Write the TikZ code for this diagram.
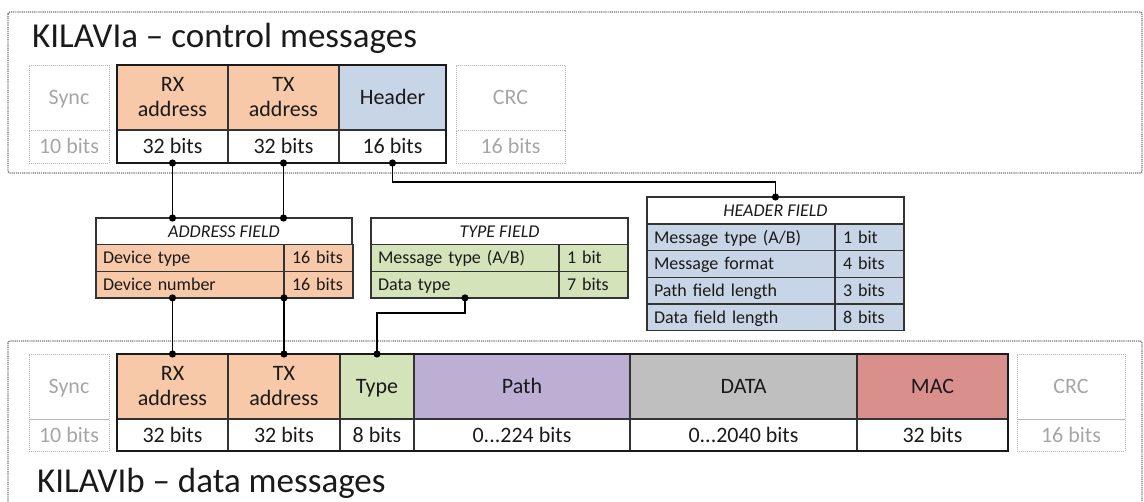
\documentclass[tikz,border=0pt]{standalone}
\usepackage{fontspec}
\setmainfont{Carlito}

\definecolor{ink}{HTML}{1A1A1A}
\definecolor{faint}{HTML}{A6A6A6}
\definecolor{faintline}{HTML}{B5B5B5}
\definecolor{frame}{HTML}{767676}
\definecolor{rule}{HTML}{333333}
\definecolor{addr}{HTML}{F8C9A8}
\definecolor{hdr}{HTML}{C8D5E6}
\definecolor{typ}{HTML}{D5E3BB}
\definecolor{pth}{HTML}{BDAED3}
\definecolor{dat}{HTML}{BFBFBF}
\definecolor{mac}{HTML}{D9908D}

\tikzset{
  % one field of a message frame
  cell/.style={draw=rule, line width=1.2pt, inner sep=0pt, outer sep=0pt,
    anchor=north west, text=ink, align=center,
    font=\fontsize{22}{25}\selectfont},
  oneline/.style={text height=14.2pt, text depth=0pt},
  % optional fields (sync, CRC) drawn in light grey
  ghost/.style={cell, draw=faintline, line width=0.9pt,
    dash pattern=on 1pt off 1pt, text=faint, oneline},
  % field description tables
  tab/.style={draw=rule, line width=1.3pt, inner sep=0pt, outer sep=0pt,
    anchor=north west, text=ink, font=\fontsize{18}{20}\selectfont,
    text height=11.6pt, text depth=0pt},
  tabhead/.style={tab, fill=white, font=\fontsize{18}{20}\selectfont\itshape},
  lcol/.style={tab, inner xsep=7pt, text width=174pt, align=left,
    minimum height=26.7pt},
  rcol/.style={tab, inner xsep=8pt, text width=53pt, align=left,
    minimum height=26.7pt},
  frameline/.style={draw=frame, line width=1.4pt, dash pattern=on 1.2pt off 0.9pt,
    rounded corners=2pt},
  title/.style={anchor=base west, inner sep=0pt, text=ink,
    font=\fontsize{35}{40}\selectfont},
  link/.style={draw=black, line width=1.5pt},
  dot/.style={fill=black}
}

\begin{document}
\begin{tikzpicture}[x=1pt, y=-1pt]
\useasboundingbox (0,0) rectangle (1144,502);
\clip (0,0) rectangle (1144,502);

% ---------- outer frames ----------
\draw[frameline] (8,12) rectangle (1142,173);
\draw[frameline] (8,341) rectangle (1142,530);

\node[title] (titleA) at (32,48) {KILAVIa – control messages};
\node[title] (titleB) at (37,493) {KILAVIb – data messages};

% ---------- KILAVIa frame ----------
\node[ghost, minimum width=80pt, minimum height=65pt] (tSync) at (29,65) {Sync};
\node[ghost, minimum width=80pt, minimum height=33pt] (tSyncB) at (29,130) {10 bits};
\node[cell, fill=addr, minimum width=111pt, minimum height=65pt] (tRX) at (117,65) {RX\\address};
\node[cell, oneline, minimum width=111pt, minimum height=33pt] (tRXB) at (117,130) {32 bits};
\node[cell, fill=addr, minimum width=111pt, minimum height=65pt] (tTX) at (228,65) {TX\\address};
\node[cell, oneline, minimum width=111pt, minimum height=33pt] (tTXB) at (228,130) {32 bits};
\node[cell, oneline, fill=hdr, minimum width=107pt, minimum height=65pt] (tHdr) at (339,65) {Header};
\node[cell, oneline, minimum width=107pt, minimum height=33pt] (tHdrB) at (339,130) {16 bits};
\node[ghost, minimum width=109pt, minimum height=65pt] (tCRC) at (456,65) {CRC};
\node[ghost, minimum width=109pt, minimum height=33pt] (tCRCB) at (456,130) {16 bits};
\draw[draw=ink, line width=2.4pt] (tRX.north west) rectangle (tHdrB.south east);

% ---------- KILAVIb frame ----------
\node[ghost, minimum width=80pt, minimum height=65pt] (bSync) at (29,354) {Sync};
\node[ghost, minimum width=80pt, minimum height=32pt] (bSyncB) at (29,419) {10 bits};
\node[cell, fill=addr, minimum width=111pt, minimum height=65pt] (bRX) at (117,354) {RX\\address};
\node[cell, oneline, minimum width=111pt, minimum height=32pt] (bRXB) at (117,419) {32 bits};
\node[cell, fill=addr, minimum width=112pt, minimum height=65pt] (bTX) at (228,354) {TX\\address};
\node[cell, oneline, minimum width=112pt, minimum height=32pt] (bTXB) at (228,419) {32 bits};
\node[cell, oneline, fill=typ, minimum width=74pt, minimum height=65pt] (bType) at (340,354) {Type};
\node[cell, oneline, minimum width=74pt, minimum height=32pt] (bTypeB) at (340,419) {8 bits};
\node[cell, oneline, fill=pth, minimum width=216pt, minimum height=65pt] (bPath) at (414,354) {Path};
\node[cell, oneline, minimum width=216pt, minimum height=32pt] (bPathB) at (414,419) {0...224 bits};
\node[cell, oneline, fill=dat, minimum width=227pt, minimum height=65pt] (bData) at (630,354) {DATA};
\node[cell, oneline, minimum width=227pt, minimum height=32pt] (bDataB) at (630,419) {0...2040 bits};
\node[cell, oneline, fill=mac, minimum width=151pt, minimum height=65pt] (bMac) at (857,354) {MAC};
\node[cell, oneline, minimum width=151pt, minimum height=32pt] (bMacB) at (857,419) {32 bits};
\node[ghost, minimum width=108pt, minimum height=65pt] (bCRC) at (1017,354) {CRC};
\node[ghost, minimum width=108pt, minimum height=32pt] (bCRCB) at (1017,419) {16 bits};
\draw[draw=ink, line width=2.4pt] (bRX.north west) rectangle (bMacB.south east);

% ---------- ADDRESS FIELD ----------
\node[tabhead, minimum width=256pt, minimum height=26.5pt] (adrHead) at (96,218) {ADDRESS FIELD};
\node[lcol, fill=addr] (adr1) at (96,244.5) {Device type};
\node[rcol, fill=addr] (adr1b) at (adr1.north east) {16 bits};
\node[lcol, fill=addr] (adr2) at (adr1.south west) {Device number};
\node[rcol, fill=addr] (adr2b) at (adr2.north east) {16 bits};

% ---------- TYPE FIELD ----------
\node[tabhead, minimum width=257pt, minimum height=26.5pt] (typHead) at (371,218) {TYPE FIELD};
\node[lcol, fill=typ] (typ1) at (371,244.5) {Message type (A/B)};
\node[rcol, fill=typ] (typ1b) at (typ1.north east) {1 bit};
\node[lcol, fill=typ] (typ2) at (typ1.south west) {Data type};
\node[rcol, fill=typ] (typ2b) at (typ2.north east) {7 bits};

% ---------- HEADER FIELD ----------
\node[tabhead, minimum width=257pt, minimum height=27pt] (hdrHead) at (647,197) {HEADER FIELD};
\node[lcol, fill=hdr] (hdr1) at (647,224) {Message type (A/B)};
\node[rcol, fill=hdr] (hdr1b) at (hdr1.north east) {1 bit};
\node[lcol, fill=hdr] (hdr2) at (hdr1.south west) {Message format};
\node[rcol, fill=hdr] (hdr2b) at (hdr2.north east) {4 bits};
\node[lcol, fill=hdr] (hdr3) at (hdr2.south west) {Path field length};
\node[rcol, fill=hdr] (hdr3b) at (hdr3.north east) {3 bits};
\node[lcol, fill=hdr] (hdr4) at (hdr3.south west) {Data field length};
\node[rcol, fill=hdr] (hdr4b) at (hdr4.north east) {8 bits};

% ---------- connectors ----------
\coordinate (rxTop) at (tRXB.south |- adrHead.north);
\coordinate (txTop) at (tTXB.south |- adrHead.north);
\coordinate (rxBot) at (bRX.north |- adr2.south);
\coordinate (txBot) at (bTX.north |- adr2.south);
\coordinate (typeOut) at (typ2.south);

\draw[link] (tRXB.south) -- (rxTop);
\draw[link] (tTXB.south) -- (txTop);
\draw[link] (rxBot) -- (bRX.north);
\draw[link] (txBot) -- (bTX.north);
\draw[link] (typeOut) -- ++(0,15) -| (bType.north);
\draw[link] (tHdrB.south) -- ++(0,19) -| (hdrHead.north);

\foreach \p in {tRXB.south, rxTop, tTXB.south, txTop, rxBot, bRX.north,
  txBot, bTX.north, typeOut, bType.north, tHdrB.south, hdrHead.north}
  \fill[dot] (\p) circle (3.6pt);
\end{tikzpicture}
\end{document}
